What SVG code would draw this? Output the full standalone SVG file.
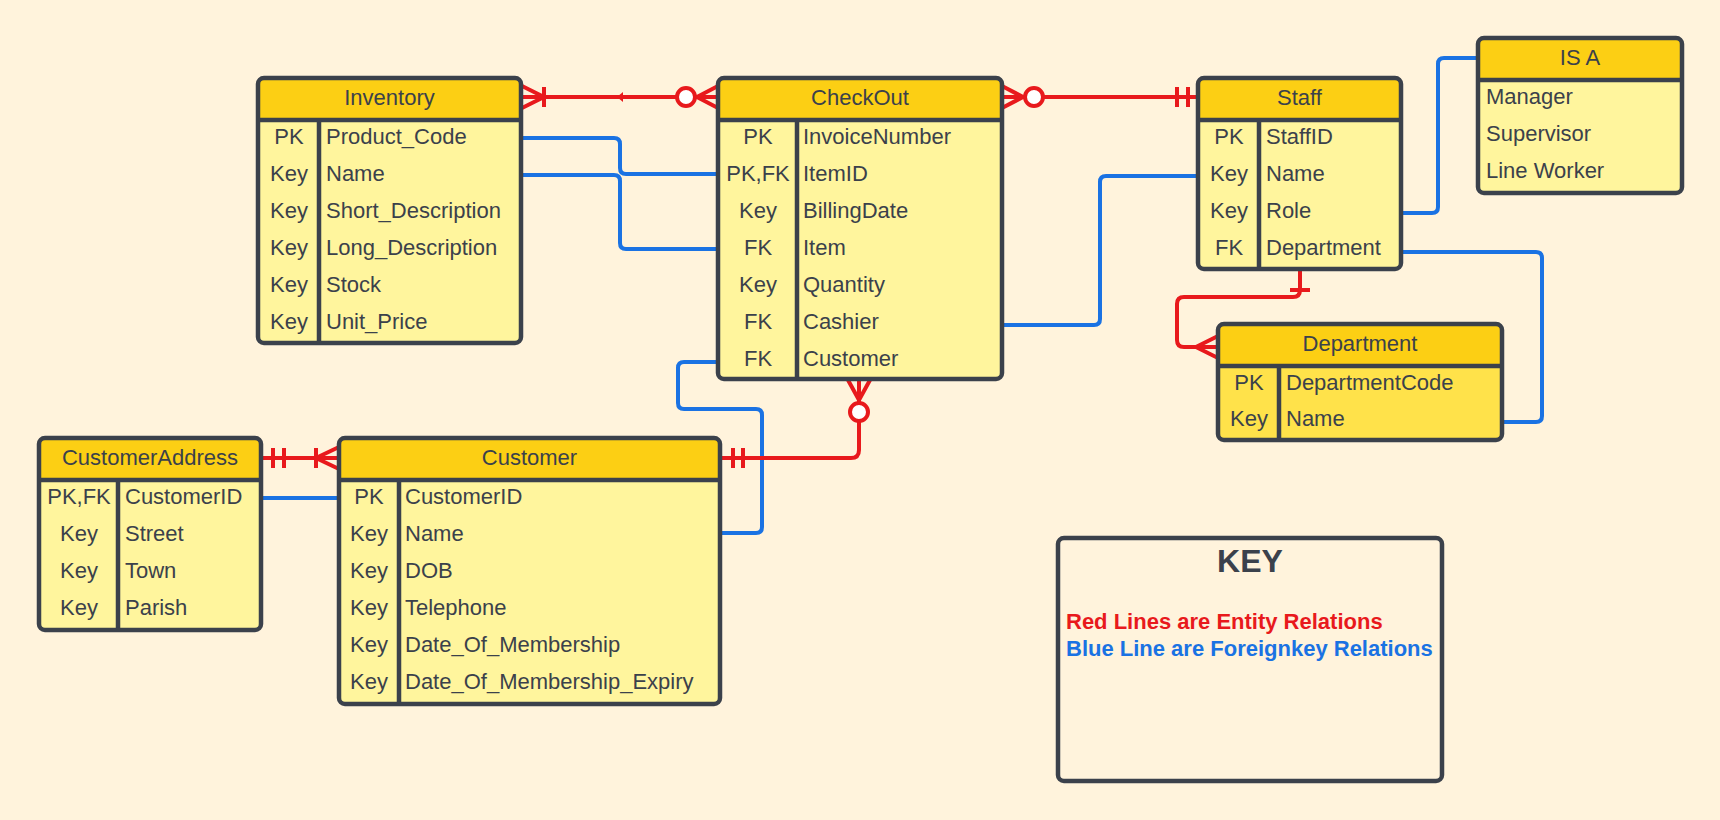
<svg xmlns="http://www.w3.org/2000/svg" width="1720" height="820" viewBox="0 0 1720 820">
<style>
.bg{fill:#fff3dc}
.body{fill:#fff59d}
.body2{fill:#ffe24a}
.hdr{fill:#fccf14}
.frame{fill:none;stroke:#3b414b;stroke-width:4.5}
.sep{stroke:#3b414b;stroke-width:4.5}
.t{font-family:"Liberation Sans",Arial,sans-serif;font-size:22px;fill:#3b414b}
.h{font-family:"Liberation Sans",Arial,sans-serif;font-size:22px;fill:#3b414b;text-anchor:middle}
.c{text-anchor:middle}
.red{fill:none;stroke:#e8191c;stroke-width:4}
.redc{fill:#ffffff;stroke:#e8191c;stroke-width:4}
.blue{fill:none;stroke:#1a72e3;stroke-width:4}
.kt{font-family:"Liberation Sans",Arial,sans-serif;font-weight:bold}
</style>
<rect class="bg" x="0" y="0" width="1720" height="820"/>

<g id="connectors">
  <!-- blue FK relations -->
  <path class="blue" d="M522,138 H614 Q620,138 620,144 V168 Q620,174 626,174 H718"/>
  <path class="blue" d="M522,175 H614 Q620,175 620,181 V243 Q620,249 626,249 H718"/>
  <path class="blue" d="M718,362 H684 Q678,362 678,368 V403 Q678,409 684,409 H756 Q762,409 762,415 V527 Q762,533 756,533 H720"/>
  <path class="blue" d="M1002,325 H1094 Q1100,325 1100,319 V182 Q1100,176 1106,176 H1198"/>
  <path class="blue" d="M1401,213 H1432 Q1438,213 1438,207 V64 Q1438,58 1444,58 H1478"/>
  <path class="blue" d="M1401,252 H1536 Q1542,252 1542,258 V416 Q1542,422 1536,422 H1502"/>
  <path class="blue" d="M261,498 H339"/>

  <!-- Inventory - CheckOut -->
  <path class="red" d="M522,97 H718"/>
  <path class="red" d="M522,86 L544,97 L522,108 M544,87 V107"/>
  <polygon points="617,97 623,92 623,102" fill="#e8191c"/>
  <path class="red" d="M718,86 L697,97 L718,108"/>
  <circle class="redc" cx="686" cy="97" r="9"/>

  <!-- CheckOut - Staff -->
  <path class="red" d="M1002,97 H1198"/>
  <path class="red" d="M1002,86 L1023,97 L1002,108"/>
  <circle class="redc" cx="1034" cy="97" r="9"/>
  <path class="red" d="M1177,87 V107 M1188,87 V107"/>

  <!-- Staff - Department -->
  <path class="red" d="M1300,269 V290 Q1300,297 1293,297 H1184 Q1177,297 1177,304 V340 Q1177,347 1184,347 H1218"/>
  <path class="red" d="M1290,290 H1310"/>
  <path class="red" d="M1218,336 L1196,347 L1218,358"/>

  <!-- CheckOut - Customer -->
  <path class="red" d="M859,380 V450 Q859,458 851,458 H720"/>
  <path class="red" d="M848,380 L859,400 L870,380"/>
  <circle class="redc" cx="859" cy="412" r="9"/>
  <path class="red" d="M733,448 V468 M743,448 V468"/>

  <!-- CustomerAddress - Customer -->
  <path class="red" d="M261,458 H339"/>
  <path class="red" d="M273,448 V468 M284,448 V468"/>
  <path class="red" d="M339,447 L316,458 L339,469 M316,448 V468"/>
</g>

<g id="inventory">
  <rect class="body" x="258" y="78" width="263" height="265" rx="6"/>
  <path class="hdr" d="M264,78 H515 Q521,78 521,84 V120 H258 V84 Q258,78 264,78 Z"/>
  <line class="sep" x1="258" y1="120" x2="521" y2="120"/>
  <line class="sep" x1="319" y1="120" x2="319" y2="343"/>
  <rect class="frame" x="258" y="78" width="263" height="265" rx="6"/>
  <text class="h" x="389.5" y="105">Inventory</text>
  <text class="t c" x="289" y="144">PK</text><text class="t" x="326" y="144">Product_Code</text>
  <text class="t c" x="289" y="181">Key</text><text class="t" x="326" y="181">Name</text>
  <text class="t c" x="289" y="218">Key</text><text class="t" x="326" y="218">Short_Description</text>
  <text class="t c" x="289" y="255">Key</text><text class="t" x="326" y="255">Long_Description</text>
  <text class="t c" x="289" y="292">Key</text><text class="t" x="326" y="292">Stock</text>
  <text class="t c" x="289" y="329">Key</text><text class="t" x="326" y="329">Unit_Price</text>
</g>

<g id="checkout">
  <rect class="body" x="718" y="78" width="284" height="301" rx="6"/>
  <path class="hdr" d="M724,78 H996 Q1002,78 1002,84 V120 H718 V84 Q718,78 724,78 Z"/>
  <line class="sep" x1="718" y1="120" x2="1002" y2="120"/>
  <line class="sep" x1="797" y1="120" x2="797" y2="379"/>
  <rect class="frame" x="718" y="78" width="284" height="301" rx="6"/>
  <text class="h" x="860" y="105">CheckOut</text>
  <text class="t c" x="758" y="144">PK</text><text class="t" x="803" y="144">InvoiceNumber</text>
  <text class="t c" x="758" y="181">PK,FK</text><text class="t" x="803" y="181">ItemID</text>
  <text class="t c" x="758" y="218">Key</text><text class="t" x="803" y="218">BillingDate</text>
  <text class="t c" x="758" y="255">FK</text><text class="t" x="803" y="255">Item</text>
  <text class="t c" x="758" y="292">Key</text><text class="t" x="803" y="292">Quantity</text>
  <text class="t c" x="758" y="329">FK</text><text class="t" x="803" y="329">Cashier</text>
  <text class="t c" x="758" y="366">FK</text><text class="t" x="803" y="366">Customer</text>
</g>

<g id="staff">
  <rect class="body" x="1198" y="78" width="203" height="191" rx="6"/>
  <path class="hdr" d="M1204,78 H1395 Q1401,78 1401,84 V120 H1198 V84 Q1198,78 1204,78 Z"/>
  <line class="sep" x1="1198" y1="120" x2="1401" y2="120"/>
  <line class="sep" x1="1259" y1="120" x2="1259" y2="269"/>
  <rect class="frame" x="1198" y="78" width="203" height="191" rx="6"/>
  <text class="h" x="1299.5" y="105">Staff</text>
  <text class="t c" x="1229" y="144">PK</text><text class="t" x="1266" y="144">StaffID</text>
  <text class="t c" x="1229" y="181">Key</text><text class="t" x="1266" y="181">Name</text>
  <text class="t c" x="1229" y="218">Key</text><text class="t" x="1266" y="218">Role</text>
  <text class="t c" x="1229" y="255">FK</text><text class="t" x="1266" y="255">Department</text>
</g>

<g id="isa">
  <rect class="body" x="1478" y="38" width="204" height="155" rx="6"/>
  <path class="hdr" d="M1484,38 H1676 Q1682,38 1682,44 V80 H1478 V44 Q1478,38 1484,38 Z"/>
  <line class="sep" x1="1478" y1="80" x2="1682" y2="80"/>
  <rect class="frame" x="1478" y="38" width="204" height="155" rx="6"/>
  <text class="h" x="1580" y="65">IS A</text>
  <text class="t" x="1486" y="104">Manager</text>
  <text class="t" x="1486" y="141">Supervisor</text>
  <text class="t" x="1486" y="178">Line Worker</text>
</g>

<g id="department">
  <rect class="body2" x="1218" y="324" width="284" height="116" rx="6"/>
  <path class="hdr" d="M1224,324 H1496 Q1502,324 1502,330 V366 H1218 V330 Q1218,324 1224,324 Z"/>
  <line class="sep" x1="1218" y1="366" x2="1502" y2="366"/>
  <line class="sep" x1="1279" y1="366" x2="1279" y2="440"/>
  <rect class="frame" x="1218" y="324" width="284" height="116" rx="6"/>
  <text class="h" x="1360" y="351">Department</text>
  <text class="t c" x="1249" y="390">PK</text><text class="t" x="1286" y="390">DepartmentCode</text>
  <text class="t c" x="1249" y="426">Key</text><text class="t" x="1286" y="426">Name</text>
</g>

<g id="customeraddress">
  <rect class="body" x="39" y="438" width="222" height="192" rx="6"/>
  <path class="hdr" d="M45,438 H255 Q261,438 261,444 V480 H39 V444 Q39,438 45,438 Z"/>
  <line class="sep" x1="39" y1="480" x2="261" y2="480"/>
  <line class="sep" x1="118" y1="480" x2="118" y2="630"/>
  <rect class="frame" x="39" y="438" width="222" height="192" rx="6"/>
  <text class="h" x="150" y="465">CustomerAddress</text>
  <text class="t c" x="79" y="504">PK,FK</text><text class="t" x="125" y="504">CustomerID</text>
  <text class="t c" x="79" y="541">Key</text><text class="t" x="125" y="541">Street</text>
  <text class="t c" x="79" y="578">Key</text><text class="t" x="125" y="578">Town</text>
  <text class="t c" x="79" y="615">Key</text><text class="t" x="125" y="615">Parish</text>
</g>

<g id="customer">
  <rect class="body" x="339" y="438" width="381" height="266" rx="6"/>
  <path class="hdr" d="M345,438 H714 Q720,438 720,444 V480 H339 V444 Q339,438 345,438 Z"/>
  <line class="sep" x1="339" y1="480" x2="720" y2="480"/>
  <line class="sep" x1="399" y1="480" x2="399" y2="704"/>
  <rect class="frame" x="339" y="438" width="381" height="266" rx="6"/>
  <text class="h" x="529.5" y="465">Customer</text>
  <text class="t c" x="369" y="504">PK</text><text class="t" x="405" y="504">CustomerID</text>
  <text class="t c" x="369" y="541">Key</text><text class="t" x="405" y="541">Name</text>
  <text class="t c" x="369" y="578">Key</text><text class="t" x="405" y="578">DOB</text>
  <text class="t c" x="369" y="615">Key</text><text class="t" x="405" y="615">Telephone</text>
  <text class="t c" x="369" y="652">Key</text><text class="t" x="405" y="652">Date_Of_Membership</text>
  <text class="t c" x="369" y="689">Key</text><text class="t" x="405" y="689">Date_Of_Membership_Expiry</text>
</g>

<g id="key">
  <rect class="frame" x="1058" y="538" width="384" height="243" rx="6"/>
  <text class="kt" x="1250" y="572" font-size="32" fill="#3b414b" text-anchor="middle">KEY</text>
  <text class="kt" x="1066" y="629" font-size="22" fill="#e8191c">Red Lines are Entity Relations</text>
  <text class="kt" x="1066" y="656" font-size="22" fill="#1a72e3">Blue Line are Foreignkey Relations</text>
</g>
</svg>
